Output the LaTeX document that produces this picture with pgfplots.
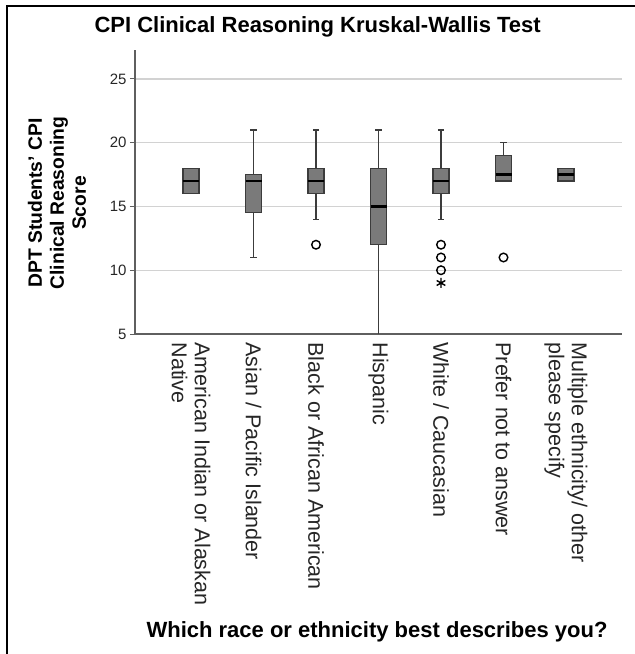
\documentclass[border=0pt]{standalone}
\usepackage{fontspec}
\setmainfont{Liberation Sans}
\usepackage{pgfplots}
\pgfplotsset{compat=1.18}
\definecolor{boxgray}{RGB}{122,122,122}
\definecolor{edgegray}{RGB}{60,60,60}
\definecolor{gridgray}{RGB}{210,210,210}
\definecolor{axisgray}{RGB}{95,95,95}
\begin{document}
\begin{tikzpicture}
\useasboundingbox (0,0) rectangle (635pt,654pt);
\draw[line width=1.2pt] (7pt,0) -- (7pt,648pt) -- (635pt,648pt);
\begin{axis}[
  at={(135pt,320pt)}, anchor=south west,
  scale only axis, width=487pt, height=284pt,
  xmin=0.104, xmax=7.896, ymin=5, ymax=27.27,
  axis lines=left, axis line style={-, draw=axisgray, line width=1.1pt},
  ytick={5,10,15,20,25},
  ymajorgrids, grid style={draw=gridgray, line width=1.3pt},
  tick align=outside, major tick length=5pt,
  ytick style={draw=axisgray, line width=1pt},
  xtick={1,2,3,4,5,6,7},
  xtick style={draw=none},
  xticklabels={{American Indian or Alaskan\\Native},{Asian / Pacific Islander},{Black or African American},{Hispanic},{White / Caucasian},{Prefer not to answer},{Multiple ethnicity/ other\\please specify}},
  xticklabel style={rotate=-90, anchor=west, align=left, font=\fontsize{21.5}{23}\selectfont, text=black!85},
  yticklabel style={font=\fontsize{15}{15}\selectfont, text=black!85},
  /pgf/number format/assume math mode=true,
  title={CPI Clinical Reasoning Kruskal-Wallis Test},
  title style={at={(axis description cs:0.375,1.039)}, anchor=base, font=\bfseries\fontsize{22}{24}\selectfont},
  xlabel={Which race or ethnicity best describes you?},
  xlabel style={at={(axis description cs:0.497,-1.067)}, anchor=base, font=\bfseries\fontsize{22}{24}\selectfont},
  ylabel={DPT Students' CPI\\Clinical Reasoning\\Score},
  ylabel style={at={(axis description cs:-0.16,0.461)}, anchor=center, align=center, font=\bfseries\fontsize{19.3}{22}\selectfont},
  clip=false,
  whisk/.style={draw=edgegray, line width=1.4pt, mark=none},
  bx/.style={fill=boxgray, draw=edgegray, line width=1.1pt, mark=none},
  med/.style={draw=black, line width=2.5pt, mark=none},
]
% ---- 1: American Indian or Alaskan Native (16,16,17,18,18)
\addplot[bx] coordinates {(0.872,16) (1.128,16) (1.128,18) (0.872,18)} --cycle;
\addplot[med] coordinates {(0.872,17) (1.128,17)};
% ---- 2: Asian / Pacific Islander (11,14.5,17,17.5,21)
\addplot[whisk] coordinates {(2,11) (2,14.5)};
\addplot[whisk] coordinates {(2,17.5) (2,21)};
\addplot[whisk] coordinates {(1.95,11) (2.05,11)};
\addplot[whisk] coordinates {(1.95,21) (2.05,21)};
\addplot[bx] coordinates {(1.872,14.5) (2.128,14.5) (2.128,17.5) (1.872,17.5)} --cycle;
\addplot[med] coordinates {(1.872,17) (2.128,17)};
% ---- 3: Black or African American (14,16,17,18,21)
\addplot[whisk] coordinates {(3,14) (3,16)};
\addplot[whisk] coordinates {(3,18) (3,21)};
\addplot[whisk] coordinates {(2.95,14) (3.05,14)};
\addplot[whisk] coordinates {(2.95,21) (3.05,21)};
\addplot[bx] coordinates {(2.872,16) (3.128,16) (3.128,18) (2.872,18)} --cycle;
\addplot[med] coordinates {(2.872,17) (3.128,17)};
% ---- 4: Hispanic (5,12,15,18,21)
\addplot[whisk] coordinates {(4,5) (4,12)};
\addplot[whisk] coordinates {(4,18) (4,21)};
\addplot[whisk] coordinates {(3.95,21) (4.05,21)};
\addplot[bx] coordinates {(3.872,12) (4.128,12) (4.128,18) (3.872,18)} --cycle;
\addplot[med] coordinates {(3.872,15) (4.128,15)};
% ---- 5: White / Caucasian (14,16,17,18,21)
\addplot[whisk] coordinates {(5,14) (5,16)};
\addplot[whisk] coordinates {(5,18) (5,21)};
\addplot[whisk] coordinates {(4.95,14) (5.05,14)};
\addplot[whisk] coordinates {(4.95,21) (5.05,21)};
\addplot[bx] coordinates {(4.872,16) (5.128,16) (5.128,18) (4.872,18)} --cycle;
\addplot[med] coordinates {(4.872,17) (5.128,17)};
% ---- 6: Prefer not to answer (17,17,17.5,19,20)
\addplot[whisk] coordinates {(6,19) (6,20)};
\addplot[whisk] coordinates {(5.95,20) (6.05,20)};
\addplot[bx] coordinates {(5.872,17) (6.128,17) (6.128,19) (5.872,19)} --cycle;
\addplot[med] coordinates {(5.872,17.5) (6.128,17.5)};
% ---- 7: Multiple ethnicity/ other (17,17,17.5,18,18)
\addplot[bx] coordinates {(6.872,17) (7.128,17) (7.128,18) (6.872,18)} --cycle;
\addplot[med] coordinates {(6.872,17.5) (7.128,17.5)};
% ---- outliers
\addplot[only marks, mark=o, mark size=4.3pt, mark options={solid, draw=black, fill=white, line width=1.4pt}]
  coordinates {(3,12) (5,12) (5,11) (5,10) (6,11)};
\addplot[only marks, mark=asterisk, mark size=5pt, mark options={draw=black, line width=1.4pt}] coordinates {(5,9)};
\end{axis}
\end{tikzpicture}
\end{document}
